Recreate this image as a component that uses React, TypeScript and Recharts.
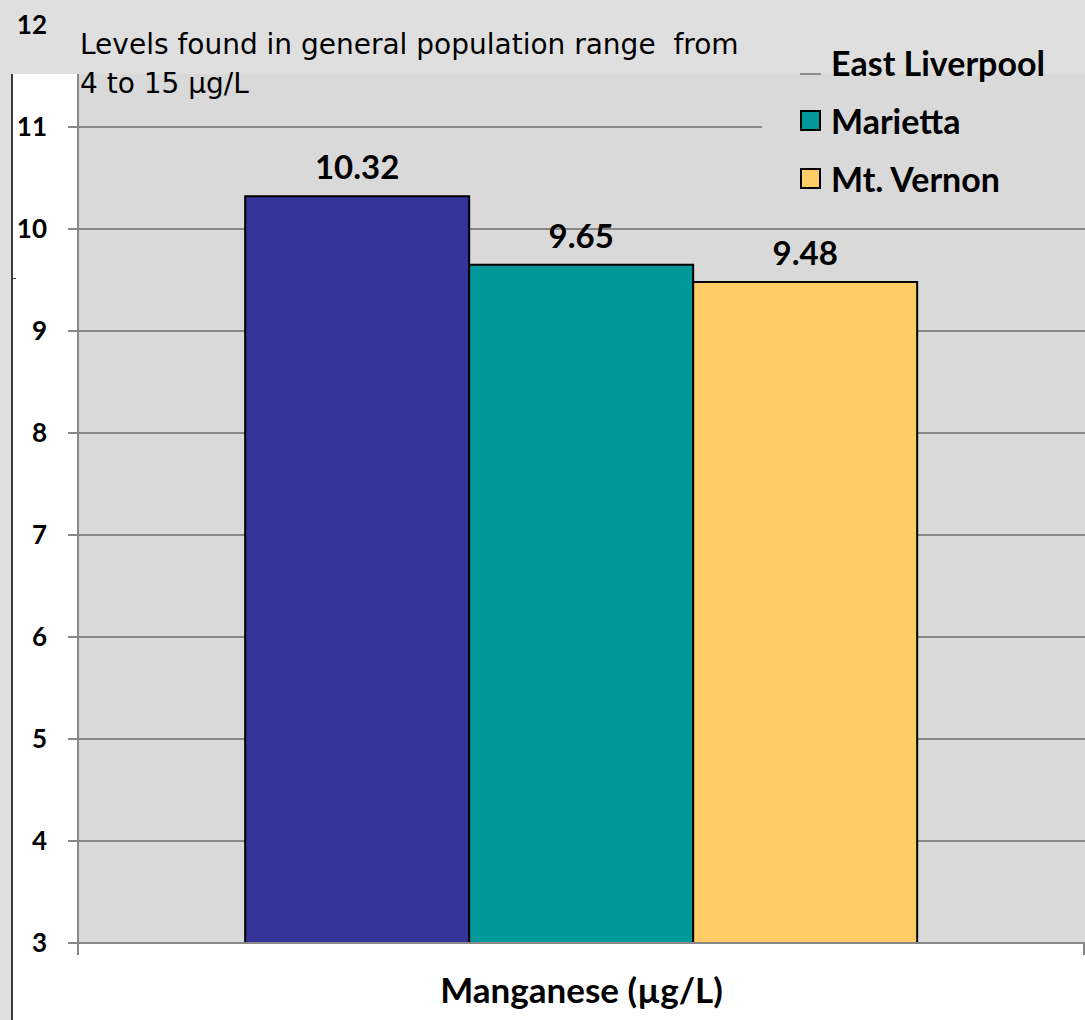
import React from 'react';
import { Bar, BarChart, CartesianGrid, LabelList, XAxis, YAxis } from 'recharts';

const categories = ['Manganese (µg/L)'];
const seriesNames = ['East Liverpool', 'Marietta', 'Mt. Vernon'];
const eastLiverpool = [10.32];
const marietta = [9.65];
const mtVernon = [9.48];
const yTicks = [3, 4, 5, 6, 7, 8, 9, 10, 11, 12];
const gridValues = [4, 5, 6, 7, 8, 9, 10, 11];
const noteLines = ['Levels found in general population range  from', '4 to 15 µg/L'];

const COLORS = ['#333399', '#009999', '#FFCC66'];
const BOLD = 'Lato, "Open Sans", sans-serif';
const NOTE = '"DejaVu Sans", Verdana, sans-serif';
const AXIS_GRAY = '#878787';
const HIDDEN_TICK = 12; // its tick mark sits under the top strip

const data = categories.map((name, i) => ({
  name,
  eastLiverpool: eastLiverpool[i],
  marietta: marietta[i],
  mtVernon: mtVernon[i]
}));

function YTick(props: any) {
  const { x, y, payload } = props;
  return (
    <g>
      {payload.value !== HIDDEN_TICK && (
        <line x1={68} x2={78} y1={y} y2={y} stroke={AXIS_GRAY} strokeWidth={2} />
      )}
      <text
        x={47}
        y={y}
        dy="0.36em"
        textAnchor="end"
        fontFamily={BOLD}
        fontWeight={700}
        fontSize={26}
        fill="#000"
      >
        {payload.value}
      </text>
    </g>
  );
}

function LegendBox() {
  return (
    <div style={{ position: 'absolute', left: 762, top: 0, width: 323, height: 205, zIndex: 2 }}>
      <div style={{ position: 'absolute', left: 0, top: 74, width: 323, height: 131, background: '#d9d9d9' }} />
      {/* first marker sits under the top strip, only its lower edge shows */}
      <div style={{ position: 'absolute', left: 38, top: 73, width: 21, height: 2, background: '#8c8c8c' }} />
      {seriesNames.map((s, i) => (
        <div key={s} style={{ position: 'absolute', left: 0, top: 42 + i * 58, height: 40, display: 'flex', alignItems: 'center' }}>
          {i > 0 ? (
            <div style={{ marginLeft: 38, width: 17, height: 17, border: '2px solid #000', background: COLORS[i] }} />
          ) : (
            <div style={{ marginLeft: 38, width: 21, height: 21 }} />
          )}
          <span style={{ marginLeft: 10, fontFamily: BOLD, fontWeight: 700, fontSize: 34, color: '#000', whiteSpace: 'nowrap' }}>{s}</span>
        </div>
      ))}
    </div>
  );
}

export default function App() {
  return (
    <div style={{ position: 'absolute', left: 0, top: 0, width: 1085, height: 1020, overflow: 'hidden', background: '#dfdfdf' }}>
      <div style={{ position: 'absolute', left: 13, top: 74, width: 1072, height: 946, background: '#fff' }} />
      <div style={{ position: 'absolute', left: 11, top: 74, width: 2, height: 946, background: '#3a3a3a' }} />
      <div style={{ position: 'absolute', left: 11, top: 278, width: 5, height: 1, background: '#3a3a3a' }} />
      <div style={{ position: 'absolute', left: 78, top: 74, width: 1007, height: 869, background: '#d9d9d9' }} />
      <div style={{ position: 'absolute', left: 77, top: 74, width: 2, height: 881, background: AXIS_GRAY }} />
      <div style={{ position: 'absolute', left: 1083, top: 943, width: 2, height: 12, background: AXIS_GRAY }} />

      <div style={{ position: 'absolute', left: 0, top: 0, zIndex: 1 }}>
        <BarChart
          width={1085}
          height={1020}
          data={data}
          margin={{ top: 25, right: 0, bottom: 0, left: 0 }}
          barCategoryGap="16.6%"
          barGap={0}
        >
          <CartesianGrid
            horizontal
            vertical={false}
            horizontalValues={gridValues}
            stroke={AXIS_GRAY}
            strokeWidth={2}
            fill="none"
          />
          <XAxis
            dataKey="name"
            height={77}
            axisLine={{ stroke: AXIS_GRAY, strokeWidth: 2 }}
            tickLine={false}
            tickSize={0}
            tickMargin={35}
            tick={{ fontFamily: BOLD, fontWeight: 700, fontSize: 35, fill: '#000' }}
          />
          <YAxis
            width={78}
            domain={[3, 12]}
            ticks={yTicks}
            interval={0}
            axisLine={false}
            tickLine={false}
            tick={<YTick />}
          />
          {['eastLiverpool', 'marietta', 'mtVernon'].map((k, i) => (
            <Bar key={k} dataKey={k} name={seriesNames[i]} fill={COLORS[i]} stroke="#000" strokeWidth={2} isAnimationActive={false}>
              <LabelList
                dataKey={k}
                position="top"
                offset={17}
                formatter={(v: any) => Number(v).toFixed(2)}
                style={{ fontFamily: BOLD, fontWeight: 700, fontSize: 33, fill: '#000' }}
              />
            </Bar>
          ))}
        </BarChart>
      </div>

      <div style={{ position: 'absolute', left: 80, top: 0, zIndex: 2, fontFamily: NOTE, fontSize: 28, color: '#000', lineHeight: '39px', paddingTop: 25, whiteSpace: 'pre' }}>
        {noteLines.map((l) => (
          <div key={l}>{l}</div>
        ))}
      </div>
      <LegendBox />
    </div>
  );
}
